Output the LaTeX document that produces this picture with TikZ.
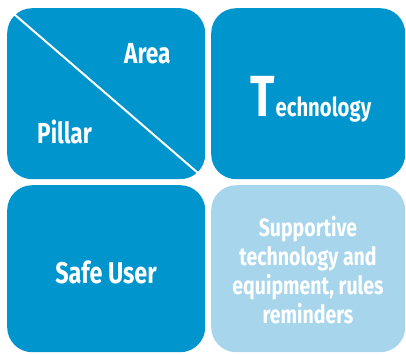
\documentclass[tikz,border=0pt]{standalone}
\usepackage{fontspec}
\newfontfamily\cond{Fira Sans}[FakeStretch=0.78]
\definecolor{darkblue}{RGB}{0,149,205}
\definecolor{lightblue}{RGB}{167,213,236}
\tikzset{
  tile/.style={rounded corners=25pt, inner sep=0pt, minimum width=198pt, anchor=north west},
  lbl/.style={text=white, inner sep=0pt, font=\cond\bfseries},
}
\begin{document}
\begin{tikzpicture}[x=1pt,y=-1pt]
\useasboundingbox (0,0) rectangle (406,354);
\node[tile, fill=darkblue, minimum height=171pt] (tl) at (7,8) {};
\node[tile, fill=darkblue, minimum height=171pt, minimum width=194pt] (tr) at (211,8) {};
\node[tile, fill=darkblue, minimum height=167pt] (bl) at (7,185) {};
\node[tile, fill=lightblue, minimum height=167pt, minimum width=194pt] (br) at (211,185) {};
\draw[white, line width=2pt] (tl.north west) -- (tl.south east);
\node[lbl, anchor=base west, font=\cond\bfseries\fontsize{29}{32}\selectfont] (area) at (124,63) {Area};
\node[lbl, anchor=base west, font=\cond\bfseries\fontsize{29}{32}\selectfont] (pillar) at (37,143) {Pillar};
\node[lbl, anchor=base west] (tech) at (250,116) {\fontsize{58}{62}\selectfont T\hspace{1pt}\fontsize{26}{30}\selectfont echnology};
\node[lbl, anchor=base, font=\cond\bfseries\fontsize{30}{34}\selectfont] (safe) at (106,283) {Safe User};
\node[lbl, anchor=base, align=center, font=\cond\bfseries\fontsize{25}{29}\selectfont] (supp) at (308,323) {Supportive\\technology and\\equipment, rules\\reminders};
\end{tikzpicture}
\end{document}
